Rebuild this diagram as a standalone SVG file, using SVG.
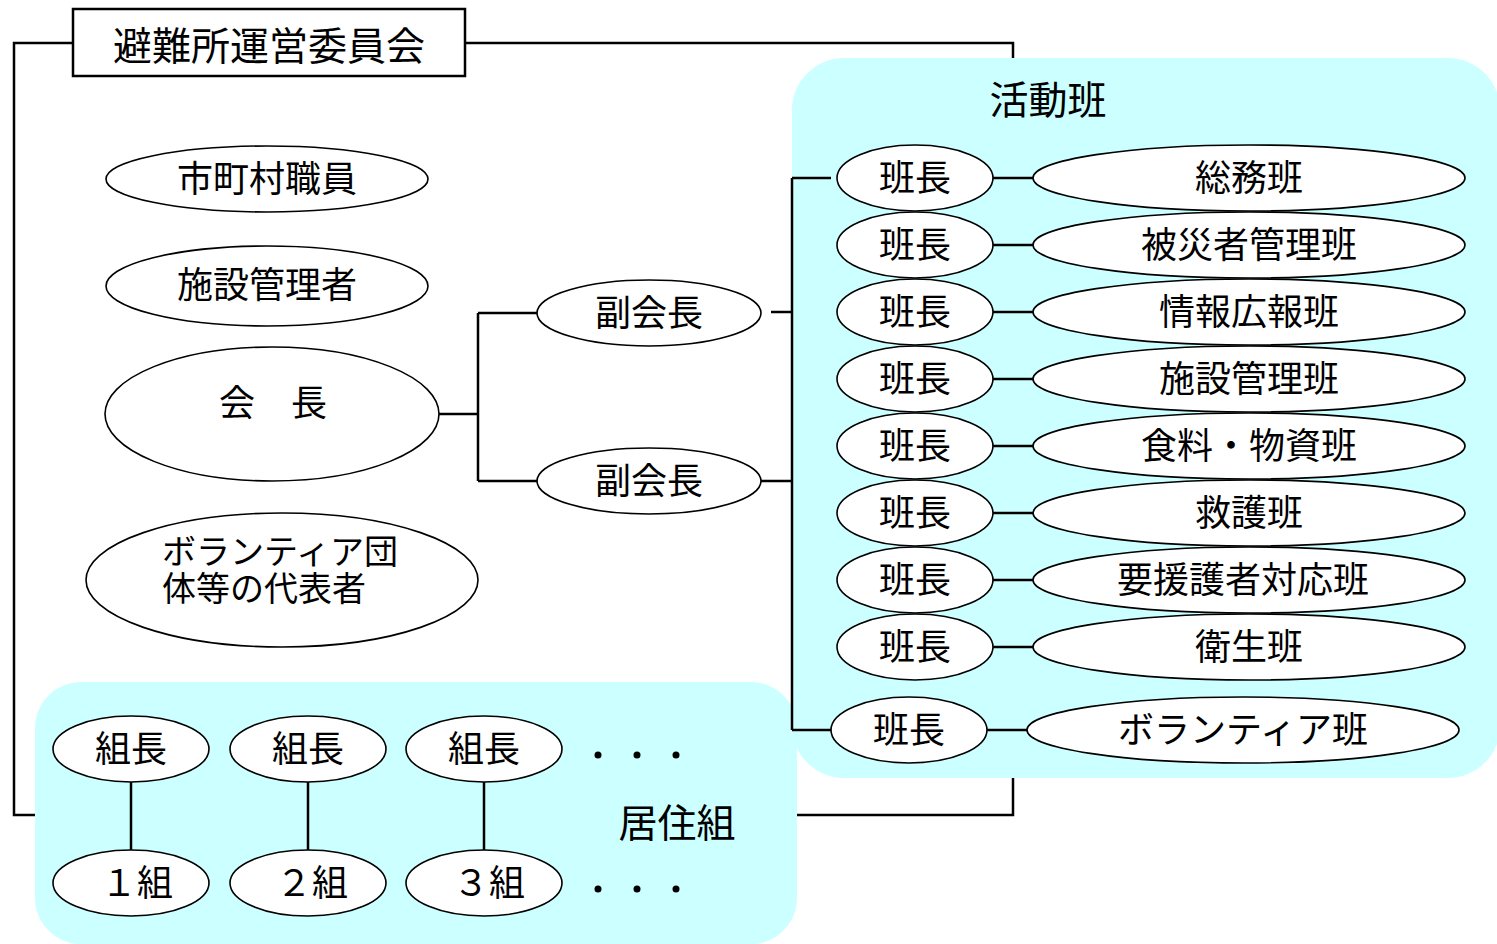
<svg xmlns="http://www.w3.org/2000/svg" width="1497" height="944" viewBox="0 0 1497 944">
<style>
text{font-family:"Liberation Serif","Noto Sans CJK JP",serif;fill:#000;text-anchor:middle}
.e{fill:#fff;stroke:#000;stroke-width:1.6}
.t{font-size:36px}
.h{font-size:39px}
.ln{stroke:#000;stroke-width:2.5;fill:none}
.grp{fill:#ccffff}
</style>
<rect width="1497" height="944" fill="#fff"/>
<g id="connectors">
<rect class="ln" x="14" y="43" width="999" height="772"/>
</g>
<g id="group-katsudo">
<rect class="grp" x="792" y="58" width="708" height="720" rx="52"/>
<text class="h" x="1048" y="114">活動班</text>
</g>
<g id="group-kyoju">
<rect class="grp" x="35" y="682" width="762" height="262" rx="46"/>
<text class="h" x="677" y="837">居住組</text>
</g>
<g id="links">
<path class="ln" d="M439 414H478M478 313V481M478 313H537M478 481H537M771 312H792M752 481H792M792 178V730M792 178H831M792 730H831"/>
<path class="ln" d="M993 178H1033M993 245H1033M993 312H1033M993 379H1033M993 446H1033M993 513H1033M993 580H1033M993 647H1033M987 730H1027"/>
<path class="ln" d="M131 782V850M308 782V850M484 782V850"/>
</g>
<g id="title"><rect x="73" y="9" width="392" height="67" fill="#fff" stroke="#000" stroke-width="2.5"/><text class="h" x="269" y="60">避難所運営委員会</text></g>
<g id="n-shichoson"><ellipse class="e" cx="267" cy="179" rx="161" ry="33"/><text class="t" x="267" y="192">市町村職員</text></g>
<g id="n-shisetsu"><ellipse class="e" cx="267" cy="286" rx="161" ry="40"/><text class="t" x="267" y="298">施設管理者</text></g>
<g id="n-kaicho"><ellipse class="e" cx="272" cy="414" rx="167" ry="67"/><text class="t" x="273" y="416">会　長</text></g>
<g id="n-fuku1"><ellipse class="e" cx="649" cy="313" rx="112" ry="33"/><text class="t" x="649" y="326">副会長</text></g>
<g id="n-fuku2"><ellipse class="e" cx="649" cy="481" rx="112" ry="33"/><text class="t" x="649" y="494">副会長</text></g>
<g id="n-volrep"><ellipse class="e" cx="282" cy="580" rx="196" ry="67"/><text style="font-size:34px;text-anchor:start" x="162" y="564">ボランティア団</text><text style="font-size:34px;text-anchor:start" x="162" y="601">体等の代表者</text></g>
<g id="r1"><ellipse class="e" cx="915" cy="178" rx="78" ry="33"/><text class="t" x="915" y="191">班長</text><ellipse class="e" cx="1249" cy="178" rx="216" ry="33"/><text class="t" x="1249" y="191">総務班</text></g>
<g id="r2"><ellipse class="e" cx="915" cy="245" rx="78" ry="33"/><text class="t" x="915" y="258">班長</text><ellipse class="e" cx="1249" cy="245" rx="216" ry="33"/><text class="t" x="1249" y="258">被災者管理班</text></g>
<g id="r3"><ellipse class="e" cx="915" cy="312" rx="78" ry="33"/><text class="t" x="915" y="325">班長</text><ellipse class="e" cx="1249" cy="312" rx="216" ry="33"/><text class="t" x="1249" y="325">情報広報班</text></g>
<g id="r4"><ellipse class="e" cx="915" cy="379" rx="78" ry="33"/><text class="t" x="915" y="392">班長</text><ellipse class="e" cx="1249" cy="379" rx="216" ry="33"/><text class="t" x="1249" y="392">施設管理班</text></g>
<g id="r5"><ellipse class="e" cx="915" cy="446" rx="78" ry="33"/><text class="t" x="915" y="459">班長</text><ellipse class="e" cx="1249" cy="446" rx="216" ry="33"/><text class="t" x="1249" y="459">食料・物資班</text></g>
<g id="r6"><ellipse class="e" cx="915" cy="513" rx="78" ry="33"/><text class="t" x="915" y="526">班長</text><ellipse class="e" cx="1249" cy="513" rx="216" ry="33"/><text class="t" x="1249" y="526">救護班</text></g>
<g id="r7"><ellipse class="e" cx="915" cy="580" rx="78" ry="33"/><text class="t" x="915" y="593">班長</text><ellipse class="e" cx="1249" cy="580" rx="216" ry="33"/><text class="t" x="1243" y="593">要援護者対応班</text></g>
<g id="r8"><ellipse class="e" cx="915" cy="647" rx="78" ry="33"/><text class="t" x="915" y="660">班長</text><ellipse class="e" cx="1249" cy="647" rx="216" ry="33"/><text class="t" x="1249" y="660">衛生班</text></g>
<g id="r9"><ellipse class="e" cx="909" cy="730" rx="78" ry="33"/><text class="t" x="909" y="743">班長</text><ellipse class="e" cx="1243" cy="730" rx="216" ry="33"/><text class="t" x="1243" y="743">ボランティア班</text></g>
<g id="k1"><ellipse class="e" cx="131" cy="749" rx="78" ry="33"/><text class="t" x="131" y="762">組長</text><ellipse class="e" cx="131" cy="883" rx="78" ry="33"/><text class="t" x="137" y="896">１組</text></g>
<g id="k2"><ellipse class="e" cx="308" cy="749" rx="78" ry="33"/><text class="t" x="308" y="762">組長</text><ellipse class="e" cx="308" cy="883" rx="78" ry="33"/><text class="t" x="312" y="896">２組</text></g>
<g id="k3"><ellipse class="e" cx="484" cy="749" rx="78" ry="33"/><text class="t" x="484" y="762">組長</text><ellipse class="e" cx="484" cy="883" rx="78" ry="33"/><text class="t" x="489" y="896">３組</text></g>
<g id="dots" fill="#000"><circle cx="598" cy="755" r="3.5"/><circle cx="637" cy="755" r="3.5"/><circle cx="676" cy="755" r="3.5"/><circle cx="598" cy="889" r="3.5"/><circle cx="637" cy="889" r="3.5"/><circle cx="676" cy="889" r="3.5"/></g>
</svg>
